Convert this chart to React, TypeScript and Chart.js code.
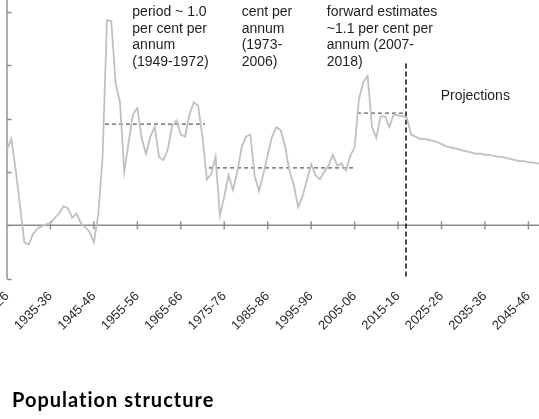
import React, { useEffect, useRef } from "react";
import { Chart, registerables } from "chart.js";

Chart.register(...registerables);

// Financial years start in FIRST_YEAR (1925-26) and run one per value
const FIRST_YEAR = 1925;
const GROWTH = [
  0.71, 0.81, 0.52, 0.18, -0.16, -0.18, -0.08, -0.03, -0.01, 0.01,
  0.02, 0.07, 0.11, 0.18, 0.16, 0.07, 0.11, 0.02, -0.02, -0.06,
  -0.16, 0.1, 0.64, 1.92, 1.91, 1.33, 1.15, 0.5, 0.78, 1.04,
  1.1, 0.81, 0.67, 0.83, 0.92, 0.64, 0.61, 0.71, 0.93, 0.98,
  0.85, 0.83, 1.04, 1.15, 1.12, 0.82, 0.43, 0.48, 0.64, 0.09,
  0.27, 0.47, 0.33, 0.5, 0.73, 0.83, 0.85, 0.46, 0.32, 0.48,
  0.66, 0.83, 0.92, 0.89, 0.74, 0.51, 0.38, 0.17, 0.27, 0.42,
  0.57, 0.47, 0.43, 0.5, 0.56, 0.66, 0.56, 0.58, 0.51, 0.65,
  0.73, 1.18, 1.34, 1.4, 0.92, 0.82, 1.02, 1.02, 0.92, 1.04,
  1.03, 1.02, 1.01, 0.85, 0.83, 0.81, 0.81, 0.8, 0.79, 0.78,
  0.76, 0.74, 0.73, 0.72, 0.71, 0.7, 0.69, 0.68, 0.67, 0.67,
  0.66, 0.66, 0.65, 0.64, 0.64, 0.63, 0.62, 0.61, 0.6, 0.6,
  0.59, 0.59, 0.58, 0.58, 0.57, 0.57,
];

const TICK_LABELS = [
  "1925-26", "1935-36", "1945-46", "1955-56", "1965-66", "1975-76",
  "1985-86", "1995-96", "2005-06", "2015-16", "2025-26", "2035-36", "2045-46",
];

// Period averages (dashed horizontal lines)
const AVERAGE_FROM = [1947.55, 1971.5, 2005.55];
const AVERAGE_TO = [1970.57, 2005.1, 2016.6];
const AVERAGE_VALUES = [0.948, 0.537, 1.051];

// Start of projections (dashed vertical line)
const PROJECTION_START = 2016.83;
const PROJECTION_LOW = -0.48;
const PROJECTION_HIGH = 1.54;

// Annotation text blocks (anchor year, anchor value of first baseline)
const NOTE_YEARS = [1953.84, 1979.0, 1998.6, 2024.8];
const NOTE_VALUES = [1.96, 1.96, 1.96, 1.173];
const NOTE_LINES = [
  ["period ~ 1.0", "per cent per", "annum", "(1949-1972)"],
  ["cent per", "annum", "(1973-", "2006)"],
  ["forward estimates", "~1.1 per cent per", "annum (2007-", "2018)"],
  ["Projections"],
];

const Y_MIN = -0.5;
const Y_MAX = 2.5;
const X_MAX = 2050;

const axesPlugin = {
  id: "axesPlugin",
  beforeDatasetsDraw(chart: any) {
    const { ctx, chartArea, scales } = chart;
    const x = scales.x;
    const y = scales.y;
    const left = chartArea.left;
    const zero = y.getPixelForValue(0);
    ctx.save();
    ctx.strokeStyle = "#8c8c8c";
    ctx.lineWidth = 1.4;
    ctx.beginPath();
    ctx.moveTo(left, chartArea.top);
    ctx.lineTo(left, chartArea.bottom);
    y.ticks.forEach((t: any) => {
      const py = Math.round(y.getPixelForValue(t.value)) + 0.5;
      ctx.moveTo(left, py);
      ctx.lineTo(left + 4.5, py);
    });
    ctx.moveTo(left, zero);
    ctx.lineTo(chartArea.right, zero);
    TICK_LABELS.slice(1).forEach((lab) => {
      const px = x.getPixelForValue(parseInt(lab, 10));
      ctx.moveTo(px, zero - 4);
      ctx.lineTo(px, zero + 4);
    });
    ctx.stroke();
    ctx.restore();
  },
  afterDatasetsDraw(chart: any) {
    const { ctx, scales } = chart;
    const x = scales.x;
    const y = scales.y;
    ctx.save();
    ctx.fillStyle = "#1e1e1e";
    ctx.font = '14px "Liberation Sans", Arial, sans-serif';
    ctx.textAlign = "left";
    ctx.textBaseline = "alphabetic";
    NOTE_LINES.forEach((lines, i) => {
      const px = x.getPixelForValue(NOTE_YEARS[i]);
      const py = y.getPixelForValue(NOTE_VALUES[i]);
      lines.forEach((line, j) => ctx.fillText(line, px, py + j * 16.7));
    });
    ctx.restore();
  },
};

export default function App() {
  const canvasRef = useRef<HTMLCanvasElement | null>(null);

  useEffect(() => {
    document.body.style.margin = "0";
    const canvas = canvasRef.current;
    if (!canvas) return;

    const main = GROWTH.map((v, i) => ({ x: FIRST_YEAR + i, y: v }));
    const averages = AVERAGE_VALUES.map((v, i) => ({
      data: [
        { x: AVERAGE_FROM[i], y: v },
        { x: AVERAGE_TO[i], y: v },
      ],
      borderColor: "#5a5a5a",
      borderWidth: 1.2,
      borderDash: [4, 3],
      pointRadius: 0,
      fill: false,
    }));

    const chart = new Chart(canvas, {
      type: "line",
      data: {
        datasets: [
          {
            data: main,
            borderColor: "#c0c0c0",
            borderWidth: 1.8,
            pointRadius: 0,
            tension: 0,
            fill: false,
          },
          ...averages,
          {
            data: [
              { x: PROJECTION_START, y: PROJECTION_LOW },
              { x: PROJECTION_START, y: PROJECTION_HIGH },
            ],
            borderColor: "#111111",
            borderWidth: 1.5,
            borderDash: [5, 3],
            pointRadius: 0,
            fill: false,
          },
        ] as any,
      },
      options: {
        animation: false,
        responsive: false,
        maintainAspectRatio: false,
        events: [],
        layout: { padding: { left: 7, top: 18.3, right: 560 - (7 + 4.345 * (X_MAX - FIRST_YEAR)), bottom: 0 } },
        plugins: { legend: { display: false }, tooltip: { enabled: false } },
        scales: {
          x: {
            type: "linear",
            min: FIRST_YEAR,
            max: X_MAX,
            border: { display: false },
            grid: { display: false, drawTicks: false },
            afterBuildTicks: (scale: any) => {
              scale.ticks = TICK_LABELS.map((l) => ({ value: parseInt(l, 10) }));
            },
            afterFit: (scale: any) => {
              scale.height = 479 - 338.7;
              scale.paddingLeft = 0;
              scale.paddingRight = 0;
            },
            ticks: {
              autoSkip: false,
              minRotation: 45,
              maxRotation: 45,
              padding: 10,
              color: "#2a2a2a",
              font: { family: '"Liberation Sans", Arial, sans-serif', size: 13 },
              callback: (value: any) => {
                const lab = TICK_LABELS.find((l) => parseInt(l, 10) === Number(value));
                return lab ?? "";
              },
            },
          },
          y: {
            display: false,
            min: Y_MIN,
            max: Y_MAX,
            ticks: { stepSize: 0.5 },
          },
        },
      } as any,
      plugins: [axesPlugin],
    });

    return () => chart.destroy();
  }, []);

  return (
    <div
      style={{
        position: "fixed",
        left: 0,
        top: 0,
        width: 539,
        height: 419,
        overflow: "hidden",
        background: "#ffffff",
      }}
    >
      <div style={{ position: "absolute", left: 0, top: -60, width: 560, height: 479 }}>
        <canvas ref={canvasRef} width={560} height={479} style={{ width: 560, height: 479, display: "block" }} />
      </div>
      <div
        style={{
          position: "absolute",
          left: 12,
          top: 388,
          fontFamily: "Lato, 'Noto Sans', sans-serif",
          fontWeight: 700,
          fontSize: 20,
          letterSpacing: "1px",
          lineHeight: "22px",
          color: "#000000",
          whiteSpace: "nowrap",
        }}
      >
        Population structure
      </div>
    </div>
  );
}
